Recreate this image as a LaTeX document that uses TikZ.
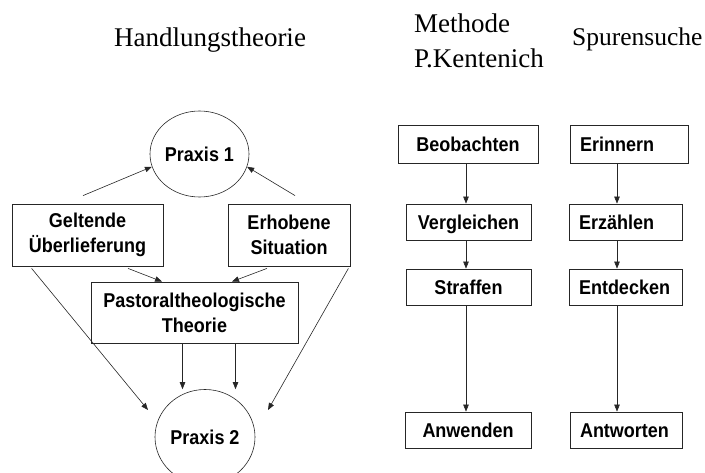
\documentclass[tikz,border=0pt]{standalone}
\usepackage{fontspec}
\setmainfont{Liberation Serif}
\newfontfamily\arialfont[FakeStretch=0.9]{Liberation Sans}
\usetikzlibrary{shapes.geometric,arrows.meta}

\tikzset{
  title/.style={font=\fontsize{27}{32}\selectfont, inner sep=0pt},
  box/.style={draw=black!85, line width=0.8pt, inner sep=0pt, align=center,
    font=\arialfont\bfseries\fontsize{20}{25}\selectfont},
  stepbox/.style={box, text height=18pt, text depth=3.7pt},
  leftbox/.style={stepbox, inner xsep=10pt, align=left},
  praxis/.style={ellipse, draw=black!85, line width=0.6pt, inner sep=0pt,
    font=\arialfont\bfseries\fontsize{20}{25}\selectfont},
  arr/.style={draw=black!85, line width=0.6pt, -{Triangle[length=7pt,width=5.5pt]}}
}

\begin{document}
\begin{tikzpicture}[x=1pt,y=-1pt]
\useasboundingbox (0,0) rectangle (705,473);
% headings
\node[title,anchor=base] (hdlg) at (210,47) {Handlungstheorie};
\node[title,anchor=base west] (meth) at (414,33) {Methode};
\node[title,anchor=base west] (kent) at (414,68) {P.Kentenich};
\node[title,font=\fontsize{25.5}{30}\selectfont,anchor=base west] (spur) at (572,46) {Spurensuche};

% Handlungstheorie
\node[praxis,minimum width=99pt,minimum height=86pt] (praxisA) at (199.5,154) {Praxis 1};
\node[box,minimum width=151pt,minimum height=62pt] (geltende) at (87.5,235) {Geltende\\Überlieferung};
\node[box,minimum width=122pt,minimum height=62pt] (erhobene) at (289,235) {Erhobene\\Situation};
\node[box,minimum width=207pt,minimum height=61pt] (pastoral) at (194.5,312.5) {Pastoraltheologische\\Theorie};
\node[praxis,minimum width=100pt,minimum height=95pt] (praxisB) at (205,437) {Praxis 2};

\draw[arr] ([shift={(-4.5,-8)}]geltende.north) -- (praxisA.195);
\draw[arr] ([shift={(6,-8)}]erhobene.north) -- (praxisA.345);
\draw[arr] ([shift={(40.5,2)}]geltende.south) -- ([xshift=-32.5pt]pastoral.north);
\draw[arr] ([shift={(-22,2)}]erhobene.south) -- ([xshift=37.5pt]pastoral.north);
\draw[arr] ([shift={(20,2)}]geltende.south west) -- ([shift={(-57,-27)}]praxisB.center);
\draw[arr] ([shift={(-2,2)}]erhobene.south east) -- ([shift={(63,-27)}]praxisB.center);
\coordinate (pa) at ([xshift=-12pt]pastoral.south);
\coordinate (pb) at ([xshift=41pt]pastoral.south);
\draw[arr] (pa) -- (pa |- praxisB.north);
\draw[arr] (pb) -- (pb |- praxisB.north);

% Methode P.Kentenich
\node[stepbox,minimum width=140pt,minimum height=38pt] (beob) at (468,144) {Beobachten};
\node[stepbox,minimum width=125pt,minimum height=36pt] (vergl) at (468.5,222) {Vergleichen};
\node[stepbox,minimum width=125pt,minimum height=36pt] (straff) at (468.5,287) {Straffen};
\node[stepbox,minimum width=126pt,minimum height=36pt] (anw) at (468,430) {Anwenden};

% Spurensuche
\node[leftbox,text width=98pt,minimum height=38pt] (erinn) at (629,144) {Erinnern};
\node[leftbox,text width=93pt,minimum height=36pt] (erz) at (625.5,222) {Erzählen};
\node[leftbox,text width=93pt,minimum height=36pt] (entd) at (625.5,287) {Entdecken};
\node[leftbox,text width=92pt,minimum height=36pt] (antw) at (626,430) {Antworten};

\coordinate (colA) at (466,0);
\coordinate (colB) at (617,0);
\draw[arr] (beob.south -| colA) -- (vergl.north -| colA);
\draw[arr] (vergl.south -| colA) -- (straff.north -| colA);
\draw[arr] (straff.south -| colA) -- (anw.north -| colA);
\draw[arr] (erinn.south -| colB) -- (erz.north -| colB);
\draw[arr] (erz.south -| colB) -- (entd.north -| colB);
\draw[arr] (entd.south -| colB) -- (antw.north -| colB);
\end{tikzpicture}
\end{document}
